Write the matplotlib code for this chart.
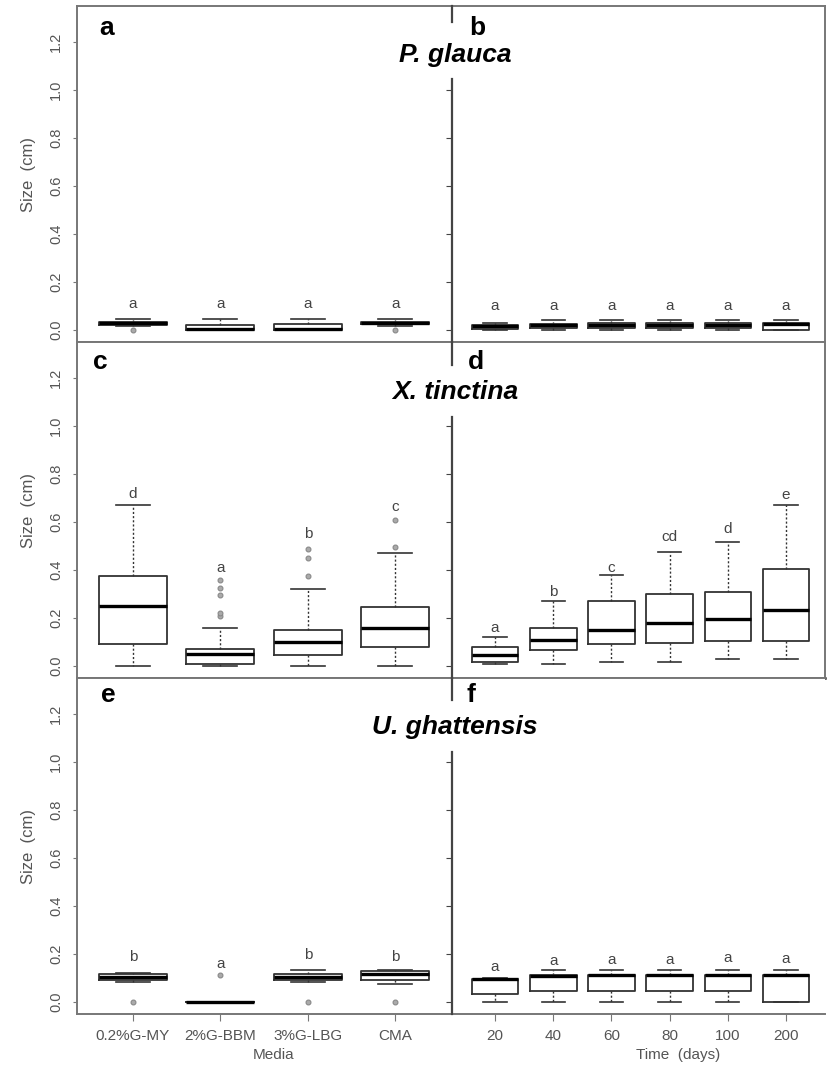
import numpy as np
import matplotlib
matplotlib.use('Agg')
import matplotlib.pyplot as plt
from matplotlib.lines import Line2D

plt.rcParams['font.family'] = ['Liberation Sans', 'DejaVu Sans']

# ---- categories ----
media = ['0.2%G-MY', '2%G-BBM', '3%G-LBG', 'CMA']
days = ['20', '40', '60', '80', '100', '200']

# ---- P. glauca, media (a) ----
pg_m_lo = [0.015, 0.0, 0.0, 0.015]
pg_m_q1 = [0.022, 0.0, 0.0, 0.024]
pg_m_med = [0.028, 0.004, 0.006, 0.030]
pg_m_q3 = [0.032, 0.022, 0.025, 0.034]
pg_m_hi = [0.045, 0.045, 0.045, 0.045]
pg_m_out = [[0.0], [], [], [0.0]]
pg_m_let = ['a', 'a', 'a', 'a']
pg_m_lety = [0.11, 0.11, 0.11, 0.11]

# ---- P. glauca, time (b) ----
pg_t_lo = [0.0, 0.0, 0.0, 0.0, 0.0, 0.0]
pg_t_q1 = [0.005, 0.01, 0.008, 0.008, 0.008, 0.0]
pg_t_med = [0.015, 0.02, 0.02, 0.02, 0.02, 0.025]
pg_t_q3 = [0.022, 0.025, 0.028, 0.028, 0.028, 0.028]
pg_t_hi = [0.03, 0.04, 0.04, 0.04, 0.04, 0.04]
pg_t_out = [[], [], [], [], [], []]
pg_t_let = ['a', 'a', 'a', 'a', 'a', 'a']
pg_t_lety = [0.10, 0.10, 0.10, 0.10, 0.10, 0.10]

# ---- X. tinctina, media (c) ----
xt_m_lo = [0.0, 0.0, 0.0, 0.0]
xt_m_q1 = [0.091, 0.007, 0.045, 0.08]
xt_m_med = [0.252, 0.049, 0.098, 0.157]
xt_m_q3 = [0.375, 0.07, 0.15, 0.244]
xt_m_hi = [0.669, 0.158, 0.319, 0.469]
xt_m_out = [[], [0.21, 0.22, 0.295, 0.325, 0.36], [0.375, 0.448, 0.487], [0.497, 0.609]]
xt_m_let = ['d', 'a', 'b', 'c']
xt_m_lety = [0.717, 0.41, 0.55, 0.661]

# ---- X. tinctina, time (d) ----
xt_t_lo = [0.007, 0.007, 0.017, 0.017, 0.028, 0.028]
xt_t_q1 = [0.018, 0.067, 0.091, 0.095, 0.105, 0.105]
xt_t_med = [0.046, 0.109, 0.151, 0.178, 0.196, 0.235]
xt_t_q3 = [0.08, 0.158, 0.269, 0.301, 0.308, 0.405]
xt_t_hi = [0.122, 0.269, 0.378, 0.476, 0.518, 0.672]
xt_t_out = [[], [], [], [], [], []]
xt_t_let = ['a', 'b', 'c', 'cd', 'd', 'e']
xt_t_lety = [0.157, 0.308, 0.41, 0.539, 0.57, 0.714]

# ---- U. ghattensis, media (e) ----
ug_m_lo = [0.084, 0.0, 0.084, 0.074]
ug_m_q1 = [0.09, 0.0, 0.09, 0.093]
ug_m_med = [0.104, 0.0, 0.104, 0.116]
ug_m_q3 = [0.116, 0.0, 0.118, 0.128]
ug_m_hi = [0.121, 0.0, 0.132, 0.132]
ug_m_out = [[0.0], [0.111], [0.0], [0.0]]
ug_m_let = ['b', 'a', 'b', 'b']
ug_m_lety = [0.188, 0.157, 0.195, 0.188]

# ---- U. ghattensis, time (f) ----
ug_t_lo = [0.0, 0.0, 0.0, 0.0, 0.0, 0.0]
ug_t_q1 = [0.035, 0.046, 0.046, 0.046, 0.046, 0.0]
ug_t_med = [0.097, 0.107, 0.114, 0.114, 0.114, 0.111]
ug_t_q3 = [0.097, 0.114, 0.114, 0.114, 0.114, 0.114]
ug_t_hi = [0.10, 0.132, 0.132, 0.132, 0.132, 0.132]
ug_t_out = [[], [], [], [], [], []]
ug_t_let = ['a', 'a', 'a', 'a', 'a', 'a']
ug_t_lety = [0.146, 0.17, 0.177, 0.175, 0.185, 0.18]

W, H = 827, 1070
fig = plt.figure(figsize=(W / 100, H / 100), dpi=100)

FRAME = '#777777'
TXT = '#555555'


def add_ax(x0, x1, top, bot):
    return fig.add_axes([x0 / W, 1 - bot / H, (x1 - x0) / W, (bot - top) / H])


def draw_boxes(ax, lo, q1, med, q3, hi, out, letters, lety, width):
    stats = []
    for i in range(len(med)):
        stats.append(dict(whislo=lo[i], q1=q1[i], med=med[i], q3=q3[i],
                          whishi=hi[i], fliers=out[i]))
    pos = np.arange(1, len(med) + 1)
    ax.bxp(stats, positions=pos, widths=width, capwidths=width * 0.5,
           boxprops=dict(color='#333333', lw=1.3),
           medianprops=dict(color='black', lw=2.4),
           whiskerprops=dict(color='#333333', lw=1.0, linestyle=(0, (1.5, 1.5))),
           capprops=dict(color='#333333', lw=1.2),
           flierprops=dict(marker='o', ms=3.5, mfc='#aaaaaa', mec='#888888', mew=0.8))
    for p, t, y in zip(pos, letters, lety):
        ax.text(p, y, t, ha='center', va='center', fontsize=11, color='#444444')


rows = [(6, 342), (342, 678), (678, 1014)]
panels = [
    (pg_m_lo, pg_m_q1, pg_m_med, pg_m_q3, pg_m_hi, pg_m_out, pg_m_let, pg_m_lety),
    (pg_t_lo, pg_t_q1, pg_t_med, pg_t_q3, pg_t_hi, pg_t_out, pg_t_let, pg_t_lety),
    (xt_m_lo, xt_m_q1, xt_m_med, xt_m_q3, xt_m_hi, xt_m_out, xt_m_let, xt_m_lety),
    (xt_t_lo, xt_t_q1, xt_t_med, xt_t_q3, xt_t_hi, xt_t_out, xt_t_let, xt_t_lety),
    (ug_m_lo, ug_m_q1, ug_m_med, ug_m_q3, ug_m_hi, ug_m_out, ug_m_let, ug_m_lety),
    (ug_t_lo, ug_t_q1, ug_t_med, ug_t_q3, ug_t_hi, ug_t_out, ug_t_let, ug_t_lety),
]
panel_letters = ['a', 'b', 'c', 'd', 'e', 'f']
letter_pos = [(0.08, 0.935), (0.067, 0.935), (0.061, 0.94),
              (0.064, 0.94), (0.083, 0.95), (0.051, 0.95)]
species = ['P. glauca', 'X. tinctina', 'U. ghattensis']
title_y = [55, 392, 727]

for r, (top, bot) in enumerate(rows):
    axl = add_ax(77, 452, top, bot)
    axr = add_ax(452, 825, top, bot)
    for c, ax in enumerate([axl, axr]):
        k = 2 * r + c
        d = panels[k]
        draw_boxes(ax, *d, width=0.78 if c == 0 else 0.8)
        ax.set_ylim(-0.05, 1.35)
        if c == 0:
            ax.set_xlim(0.36, 4.65)
        else:
            ax.set_xlim(0.26, 6.67)
        for s in ax.spines.values():
            s.set_color(FRAME)
            s.set_linewidth(1.4)
        if c == 0:
            ax.spines['right'].set_visible(False)
            ax.set_yticks(np.arange(0, 1.21, 0.2))
            ax.set_yticklabels([f'{v:.1f}' for v in np.arange(0, 1.21, 0.2)],
                               rotation=90, va='center', fontsize=10.5, color=TXT)
            ax.tick_params(axis='y', length=3, color=FRAME, pad=7)
            ax.set_ylabel('Size  (cm)', fontsize=12, color=TXT)
            ax.yaxis.set_label_coords(-0.11, 0.5)
        else:
            ax.spines['left'].set_visible(False)
            ax.set_yticks(np.arange(0, 1.01, 0.2))
            ax.tick_params(axis='y', length=4, color='#444444', labelleft=False)
            if r == 2:
                ax.spines['right'].set_visible(False)
        if r == 1:
            ax.spines['bottom'].set_color('#333333')
            ax.spines['bottom'].set_linewidth(1.8)
        if r < 2:
            ax.set_xticks([])
        else:
            labels = media if c == 0 else days
            ax.set_xticks(np.arange(1, len(labels) + 1))
            ax.set_xticklabels(labels, fontsize=11, color=TXT)
            ax.tick_params(axis='x', length=5, color=FRAME, pad=6)
        lx, ly = letter_pos[k]
        ax.text(lx, ly, panel_letters[k], transform=ax.transAxes, fontsize=19,
                fontweight='bold', ha='center', va='center')
    if r == 2:
        axl.set_xlabel('Media', fontsize=11, color=TXT)
        axl.xaxis.set_label_coords(0.525, -0.1)
        axr.set_xlabel('Time  (days)', fontsize=11, color=TXT)
        axr.xaxis.set_label_coords(0.606, -0.1)
    fig.text(455 / W, 1 - title_y[r] / H, species[r], fontsize=19, fontweight='bold',
             style='italic', ha='center', va='center')

# divider between left and right panels, broken around the species title
gaps = [(6, 22, 79, 342), (342, 365, 417, 678), (678, 700, 752, 1014)]
for a0, a1, b0, b1 in gaps:
    for y0, y1 in [(a0, a1), (b0, b1)]:
        fig.add_artist(Line2D([452 / W, 452 / W], [1 - y0 / H, 1 - y1 / H],
                              color='#444444', lw=1.6))

fig.savefig('out.png', dpi=100)
